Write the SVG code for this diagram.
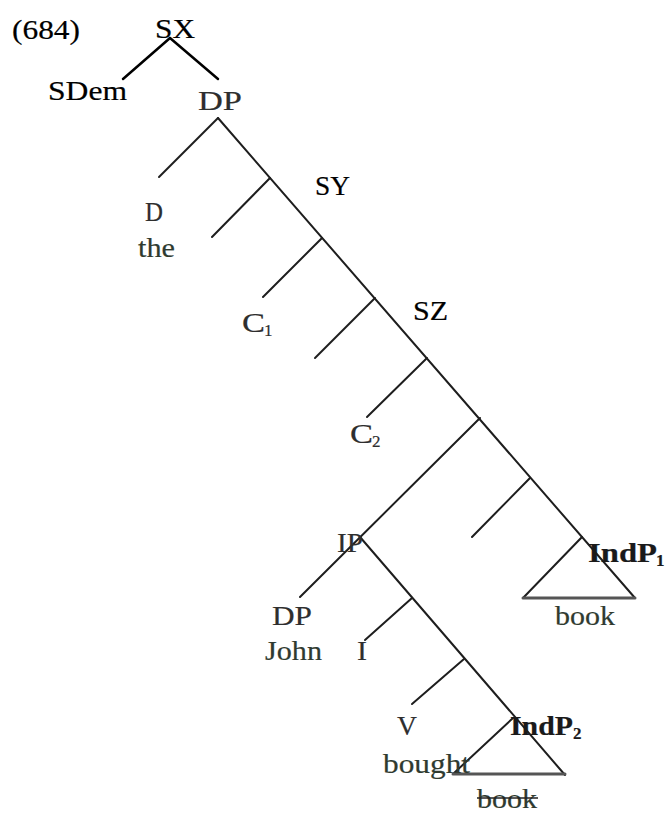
<svg xmlns="http://www.w3.org/2000/svg" width="667" height="814" viewBox="0 0 667 814">
<style>
.t{font-family:"Liberation Serif","Times New Roman",serif;font-size:27.5px;fill:#000;stroke:#000;stroke-width:0.2}
.g{fill:#2e2e2e;stroke:#2e2e2e}
.gr{fill:#2f3a30;stroke:#2f3a30}
.b{font-weight:bold;fill:#1a1a1a;stroke:#1a1a1a;stroke-width:0.2}
.sub{font-size:17px}
.e{stroke:#1e1e1e;stroke-width:2;fill:none;stroke-linecap:round}
.k{stroke:#000;stroke-width:2.5}
.base{stroke:#555;stroke-width:3}
</style>
<rect width="667" height="814" fill="#fff"/>
<g id="connectors">
<line class="e k" x1="170" y1="38" x2="123" y2="79"/>
<line class="e k" x1="170" y1="38" x2="218" y2="79"/>
<line class="e" x1="218" y1="118" x2="635" y2="598"/>
<line class="e" x1="218" y1="118" x2="159" y2="177"/>
<line class="e" x1="270" y1="178" x2="212" y2="237"/>
<line class="e" x1="322" y1="238" x2="263" y2="297"/>
<line class="e" x1="375" y1="298" x2="315" y2="358"/>
<line class="e" x1="427" y1="358" x2="367" y2="417"/>
<line class="e" x1="480" y1="418" x2="300" y2="597"/>
<line class="e" x1="530" y1="478" x2="472" y2="537"/>
<line class="e" x1="582" y1="537" x2="523" y2="598"/>
<line class="e base" x1="523" y1="598" x2="635" y2="598"/>
<line class="e" x1="360" y1="537" x2="565" y2="775"/>
<line class="e" x1="412" y1="598" x2="365" y2="640"/>
<line class="e" x1="464" y1="659" x2="412" y2="704"/>
<line class="e" x1="513" y1="718" x2="453" y2="774"/>
<line class="e base" x1="453" y1="774" x2="565" y2="774"/>
</g>
<g id="label684"><text class="t" x="12" y="39" textLength="68" lengthAdjust="spacingAndGlyphs">(684)</text></g>
<g id="SX"><text class="t" x="155" y="38" textLength="40" lengthAdjust="spacingAndGlyphs">SX</text></g>
<g id="SDem"><text class="t" x="48" y="100" textLength="79" lengthAdjust="spacingAndGlyphs">SDem</text></g>
<g id="DP1"><text class="t g" x="198" y="110" textLength="44" lengthAdjust="spacingAndGlyphs">DP</text></g>
<g id="SY"><text class="t" x="315" y="195" textLength="35" lengthAdjust="spacingAndGlyphs">SY</text></g>
<g id="D"><text class="t g" x="145" y="221" textLength="18" lengthAdjust="spacingAndGlyphs">D</text><text class="t gr" x="138" y="257" textLength="37" lengthAdjust="spacingAndGlyphs">the</text></g>
<g id="C1"><text class="t g" x="242" y="332" textLength="23" lengthAdjust="spacingAndGlyphs">C</text><text class="t g sub" x="264" y="336">1</text></g>
<g id="SZ"><text class="t" x="413" y="320" textLength="35" lengthAdjust="spacingAndGlyphs">SZ</text></g>
<g id="C2"><text class="t g" x="350" y="443" textLength="23" lengthAdjust="spacingAndGlyphs">C</text><text class="t g sub" x="372" y="447">2</text></g>
<g id="IP"><text class="t g" x="337" y="552" textLength="26" lengthAdjust="spacingAndGlyphs">IP</text></g>
<g id="IndP1"><text class="t b" x="588" y="562" textLength="69" lengthAdjust="spacingAndGlyphs">IndP</text><text class="t b sub" x="656" y="566">1</text></g>
<g id="book1"><text class="t gr" x="555" y="625" textLength="60" lengthAdjust="spacingAndGlyphs">book</text></g>
<g id="DP2"><text class="t g" x="272" y="625" textLength="40" lengthAdjust="spacingAndGlyphs">DP</text><text class="t gr" x="265" y="660" textLength="57" lengthAdjust="spacingAndGlyphs">John</text></g>
<g id="I"><text class="t g" x="357" y="660" textLength="10" lengthAdjust="spacingAndGlyphs">I</text></g>
<g id="V"><text class="t g" x="397" y="735" textLength="20" lengthAdjust="spacingAndGlyphs">V</text><text class="t gr" x="383" y="773" textLength="87" lengthAdjust="spacingAndGlyphs">bought</text></g>
<g id="IndP2"><text class="t b" x="510" y="735" textLength="63" lengthAdjust="spacingAndGlyphs">IndP</text><text class="t b sub" x="573" y="739">2</text></g>
<g id="book2"><text class="t gr" x="477" y="808" textLength="60" lengthAdjust="spacingAndGlyphs">book</text><line x1="477" y1="798" x2="538" y2="798" stroke="#222" stroke-width="1.5"/></g>
</svg>
